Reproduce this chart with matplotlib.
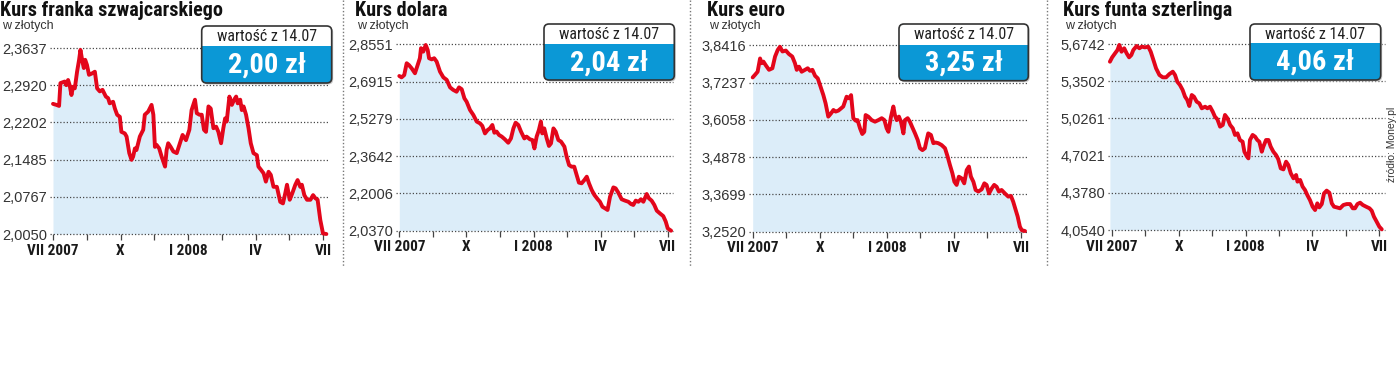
import matplotlib
matplotlib.use("Agg")
import matplotlib.pyplot as plt
from matplotlib import font_manager
from matplotlib.patches import FancyBboxPatch, Rectangle
from matplotlib.lines import Line2D
from matplotlib.transforms import IdentityTransform

# ---------------- data ----------------
titles = ["Kurs franka szwajcarskiego", "Kurs dolara", "Kurs euro", "Kurs funta szterlinga"]
unit_label = "w złotych"
box_label = "wartość z 14.07"
box_values = ["2,00 zł", "2,04 zł", "3,25 zł", "4,06 zł"]
month_ticks = [0, 1.5, 3, 4.5, 6, 7.5, 9, 10.5, 12]
month_labels = ["VII 2007", "", "X", "", "I 2008", "", "IV", "", "VII"]
source = "źródło: Money.pl"

chf_ticks = [2.0050, 2.0767, 2.1485, 2.2202, 2.2920, 2.3637]
usd_ticks = [2.0370, 2.2006, 2.3642, 2.5279, 2.6915, 2.8551]
eur_ticks = [3.2520, 3.3699, 3.4878, 3.6058, 3.7237, 3.8416]
gbp_ticks = [4.0540, 4.3780, 4.7021, 5.0261, 5.3502, 5.6742]

# months since start of July 2007
chf_m = [0.00, 0.15, 0.27, 0.33, 0.52, 0.59, 0.67, 0.74, 0.82, 0.89, 0.97, 1.07, 1.16, 1.22, 1.31,
         1.37, 1.43, 1.51, 1.60, 1.75, 1.86, 1.96, 2.08, 2.20, 2.35, 2.45, 2.52, 2.67, 2.75, 2.85,
         2.97, 3.04, 3.19, 3.27, 3.39, 3.49, 3.56, 3.64, 3.71, 3.86, 4.01, 4.08, 4.23, 4.38, 4.46,
         4.53, 4.60, 4.72, 4.83, 4.98, 5.05, 5.12, 5.23, 5.35, 5.50, 5.64, 5.76, 5.91, 6.06, 6.16,
         6.31, 6.39, 6.51, 6.61, 6.71, 6.80, 6.91, 7.01, 7.13, 7.25, 7.35, 7.47, 7.57, 7.65, 7.72,
         7.84, 7.95, 8.05, 8.14, 8.21, 8.32, 8.39, 8.47, 8.58, 8.69, 8.79, 8.91, 9.06, 9.13, 9.24,
         9.36, 9.46, 9.58, 9.68, 9.80, 9.95, 10.10, 10.22, 10.32, 10.40, 10.52, 10.63, 10.77, 10.87, 10.99,
         11.06, 11.17, 11.29, 11.44, 11.56, 11.66, 11.76, 11.88, 12.00, 12.15]
chf_v = [2.256, 2.254, 2.252, 2.296, 2.299, 2.292, 2.302, 2.292, 2.273, 2.289, 2.286, 2.318, 2.341, 2.360, 2.337,
         2.325, 2.341, 2.331, 2.312, 2.315, 2.318, 2.286, 2.280, 2.283, 2.270, 2.267, 2.257, 2.260, 2.247, 2.235,
         2.231, 2.202, 2.199, 2.193, 2.161, 2.148, 2.154, 2.170, 2.167, 2.193, 2.206, 2.235, 2.241, 2.254, 2.235,
         2.173, 2.177, 2.170, 2.154, 2.135, 2.167, 2.180, 2.173, 2.164, 2.161, 2.180, 2.196, 2.186, 2.206, 2.244,
         2.264, 2.238, 2.235, 2.235, 2.206, 2.202, 2.251, 2.247, 2.209, 2.212, 2.202, 2.180, 2.209, 2.228, 2.222,
         2.270, 2.254, 2.264, 2.270, 2.257, 2.264, 2.244, 2.251, 2.235, 2.209, 2.180, 2.161, 2.157, 2.135, 2.129,
         2.122, 2.106, 2.125, 2.119, 2.096, 2.096, 2.067, 2.064, 2.083, 2.100, 2.071, 2.083, 2.100, 2.109, 2.096,
         2.100, 2.080, 2.071, 2.071, 2.080, 2.074, 2.071, 2.032, 2.006, 2.005]

usd_m = [0.00, 0.10, 0.22, 0.33, 0.43, 0.55, 0.70, 0.82, 0.92, 0.97, 1.07, 1.18, 1.27, 1.33, 1.45,
         1.56, 1.67, 1.82, 1.97, 2.12, 2.27, 2.41, 2.56, 2.67, 2.79, 2.91, 3.01, 3.16, 3.31, 3.46,
         3.61, 3.71, 3.83, 3.95, 4.05, 4.16, 4.25, 4.35, 4.46, 4.58, 4.72, 4.87, 4.99, 5.10, 5.20,
         5.32, 5.44, 5.59, 5.69, 5.84, 5.95, 6.04, 6.14, 6.24, 6.33, 6.39, 6.48, 6.59, 6.69, 6.78,
         6.89, 6.99, 7.11, 7.23, 7.38, 7.48, 7.59, 7.70, 7.82, 7.93, 8.03, 8.15, 8.27, 8.38, 8.48,
         8.60, 8.72, 8.87, 8.97, 9.08, 9.20, 9.31, 9.42, 9.57, 9.67, 9.79, 9.94, 10.09, 10.24, 10.36,
         10.46, 10.57, 10.69, 10.80, 10.91, 11.06, 11.16, 11.28, 11.40, 11.51, 11.65, 11.80, 11.91, 12.00, 12.15]
usd_v = [2.716, 2.710, 2.720, 2.772, 2.764, 2.750, 2.728, 2.764, 2.794, 2.838, 2.823, 2.852, 2.830, 2.794, 2.789,
         2.794, 2.779, 2.735, 2.710, 2.699, 2.666, 2.655, 2.647, 2.666, 2.658, 2.618, 2.603, 2.567, 2.545, 2.516,
         2.508, 2.497, 2.464, 2.479, 2.486, 2.501, 2.467, 2.472, 2.457, 2.450, 2.438, 2.423, 2.442, 2.486, 2.511,
         2.501, 2.472, 2.442, 2.450, 2.438, 2.435, 2.398, 2.450, 2.479, 2.516, 2.464, 2.486, 2.442, 2.409, 2.420,
         2.486, 2.472, 2.435, 2.428, 2.406, 2.362, 2.325, 2.318, 2.318, 2.281, 2.248, 2.245, 2.259, 2.274, 2.245,
         2.216, 2.194, 2.175, 2.164, 2.142, 2.135, 2.128, 2.186, 2.227, 2.223, 2.204, 2.175, 2.169, 2.164, 2.154,
         2.150, 2.169, 2.164, 2.175, 2.164, 2.198, 2.179, 2.169, 2.150, 2.125, 2.113, 2.101, 2.077, 2.047, 2.037]

eur_m = [0.00, 0.10, 0.22, 0.33, 0.40, 0.48, 0.58, 0.73, 0.88, 1.00, 1.12, 1.22, 1.33, 1.48, 1.62,
         1.77, 1.89, 1.97, 2.07, 2.19, 2.34, 2.46, 2.56, 2.67, 2.79, 2.91, 3.01, 3.16, 3.26, 3.38,
         3.50, 3.61, 3.71, 3.83, 3.95, 4.05, 4.20, 4.31, 4.40, 4.50, 4.61, 4.69, 4.80, 4.90, 4.99,
         5.05, 5.17, 5.32, 5.47, 5.62, 5.77, 5.89, 5.99, 6.07, 6.18, 6.29, 6.36, 6.44, 6.54, 6.63,
         6.74, 6.81, 6.93, 7.03, 7.14, 7.26, 7.38, 7.48, 7.59, 7.70, 7.78, 7.85, 7.97, 8.08, 8.18,
         8.30, 8.45, 8.60, 8.72, 8.82, 8.93, 9.02, 9.12, 9.22, 9.34, 9.46, 9.57, 9.67, 9.76, 9.87,
         9.97, 10.09, 10.24, 10.36, 10.46, 10.57, 10.69, 10.80, 10.91, 11.01, 11.13, 11.28, 11.43, 11.55, 11.65,
         11.76, 11.85, 11.95, 12.03, 12.18]
eur_v = [3.740, 3.748, 3.758, 3.800, 3.785, 3.790, 3.779, 3.764, 3.769, 3.806, 3.827, 3.837, 3.822, 3.825, 3.814,
         3.806, 3.785, 3.764, 3.774, 3.758, 3.764, 3.769, 3.761, 3.764, 3.745, 3.737, 3.716, 3.684, 3.658, 3.616,
         3.626, 3.637, 3.632, 3.635, 3.642, 3.648, 3.679, 3.674, 3.684, 3.611, 3.603, 3.605, 3.579, 3.561, 3.568,
         3.621, 3.616, 3.605, 3.600, 3.605, 3.611, 3.605, 3.579, 3.568, 3.614, 3.648, 3.621, 3.605, 3.616, 3.600,
         3.563, 3.605, 3.611, 3.600, 3.582, 3.563, 3.542, 3.516, 3.510, 3.516, 3.542, 3.563, 3.558, 3.532, 3.534,
         3.532, 3.526, 3.516, 3.489, 3.463, 3.437, 3.410, 3.400, 3.426, 3.421, 3.405, 3.447, 3.458, 3.426, 3.410,
         3.384, 3.379, 3.386, 3.405, 3.400, 3.373, 3.389, 3.400, 3.394, 3.379, 3.384, 3.373, 3.363, 3.365, 3.347,
         3.321, 3.300, 3.268, 3.257, 3.254]

gbp_m = [-0.08, 0.02, 0.15, 0.26, 0.34, 0.44, 0.56, 0.67, 0.78, 0.88, 0.97, 1.12, 1.24, 1.35, 1.49,
         1.64, 1.75, 1.87, 1.99, 2.14, 2.29, 2.44, 2.59, 2.74, 2.84, 2.94, 3.06, 3.18, 3.29, 3.39,
         3.48, 3.59, 3.69, 3.81, 3.93, 4.04, 4.19, 4.29, 4.41, 4.53, 4.63, 4.74, 4.86, 4.98, 5.08,
         5.19, 5.31, 5.43, 5.53, 5.64, 5.75, 5.87, 5.95, 6.05, 6.13, 6.20, 6.32, 6.43, 6.53, 6.62,
         6.73, 6.80, 6.92, 7.03, 7.13, 7.25, 7.37, 7.47, 7.58, 7.70, 7.82, 7.92, 8.03, 8.15, 8.27,
         8.33, 8.45, 8.56, 8.67, 8.77, 8.89, 9.01, 9.12, 9.22, 9.31, 9.42, 9.52, 9.64, 9.76, 9.87,
         9.97, 10.09, 10.24, 10.39, 10.54, 10.69, 10.81, 10.91, 11.02, 11.14, 11.26, 11.41, 11.56, 11.66, 11.76,
         11.88, 12.00, 12.11]
gbp_v = [5.520, 5.558, 5.593, 5.622, 5.666, 5.607, 5.637, 5.593, 5.558, 5.578, 5.622, 5.657, 5.637, 5.651, 5.645,
         5.651, 5.607, 5.535, 5.462, 5.404, 5.384, 5.384, 5.413, 5.433, 5.404, 5.346, 5.317, 5.274, 5.215, 5.186,
         5.134, 5.230, 5.215, 5.172, 5.157, 5.114, 5.128, 5.114, 5.128, 5.085, 5.041, 5.018, 4.954, 4.969, 5.056,
         5.027, 4.969, 4.940, 4.882, 4.896, 4.838, 4.823, 4.736, 4.699, 4.678, 4.838, 4.882, 4.867, 4.838, 4.823,
         4.736, 4.780, 4.838, 4.838, 4.780, 4.736, 4.707, 4.670, 4.591, 4.582, 4.649, 4.620, 4.548, 4.504, 4.533,
         4.475, 4.490, 4.432, 4.402, 4.359, 4.315, 4.257, 4.228, 4.286, 4.251, 4.280, 4.373, 4.397, 4.379, 4.286,
         4.257, 4.251, 4.243, 4.272, 4.280, 4.280, 4.243, 4.243, 4.280, 4.292, 4.272, 4.257, 4.243, 4.222, 4.170,
         4.127, 4.083, 4.060]

series_m = [chf_m, usd_m, eur_m, gbp_m]
series_v = [chf_v, usd_v, eur_v, gbp_v]
series_ticks = [chf_ticks, usd_ticks, eur_ticks, gbp_ticks]

# ---------------- fonts ----------------
avail = {f.name for f in font_manager.fontManager.ttflist}


def pick(*names):
    for n in names:
        if n in avail:
            return n
    return "DejaVu Sans"


NARROW = pick("Liberation Sans Narrow", "Roboto Condensed", "Open Sans Condensed", "Liberation Sans")
REG = pick("Liberation Sans", "Roboto", "DejaVu Sans")

# ---------------- layout (pixels, y from top) ----------------
W, H = 1400, 374
LINE_RED = "#e3061b"
FILL_BLUE = "#dcedf9"
BOX_BLUE = "#0b98d6"
GRID_C = "#4a4a4a"

panels = [
    dict(x0=53.0, ppm=22.5, top=48.0, bot=234.0, tx=0, box=(201.7, 26, 331.7, 46, 83)),
    dict(x0=399.3, ppm=22.37, top=44.3, bot=230.7, tx=355, box=(544.0, 24, 674.3, 44.3, 80)),
    dict(x0=752.7, ppm=22.36, top=45.3, bot=231.7, tx=707, box=(899.0, 24, 1028.3, 44.5, 80.7)),
    dict(x0=1111.7, ppm=22.3, top=44.0, bot=230.0, tx=1063, box=(1250.0, 24, 1380.7, 43.3, 80)),
]
XLIM = (-0.15, 12.25)

fig = plt.figure(figsize=(W / 100, H / 100), dpi=100)
fig.patch.set_facecolor("white")

for i, p in enumerate(panels):
    left = p["x0"] + XLIM[0] * p["ppm"]
    right = p["x0"] + XLIM[1] * p["ppm"]
    ax = fig.add_axes([left / W, 1 - p["bot"] / H, (right - left) / W, (p["bot"] - p["top"]) / H])
    ax.set_facecolor("none")
    ticks = series_ticks[i]
    m, v = series_m[i], series_v[i]
    ax.set_xlim(*XLIM)
    ax.set_ylim(ticks[0], ticks[-1])
    ax.fill_between(m, v, ticks[0], color=FILL_BLUE, lw=0, zorder=1)
    ax.plot(m, v, color=LINE_RED, lw=2.8, solid_joinstyle="round", solid_capstyle="round",
            clip_on=False, zorder=3)
    for s in ax.spines.values():
        s.set_visible(False)
    ax.set_yticks(ticks)
    ax.set_yticklabels([f"{t:.4f}".replace(".", ",") for t in ticks], fontfamily=REG,
                       fontsize=10.5, color="#333333")
    ax.tick_params(axis="y", length=0, pad=2)
    ax.yaxis.grid(True, linestyle=(0, (1, 1.6)), color=GRID_C, lw=0.9)
    for gl in ax.yaxis.get_gridlines():
        gl.set_clip_on(False)
    ax.set_xticks(month_ticks)
    ax.set_xticklabels(month_labels, fontfamily=NARROW, fontweight="bold", fontsize=11,
                       color="#1a1a1a")
    ax.tick_params(axis="x", length=4, width=0.9, color="#444444", pad=3, direction="out")

    # titles
    fig.text(p["tx"] / W, 1 - 15.5 / H, titles[i], fontfamily=NARROW, fontweight="bold",
             fontsize=14.5, color="#111111", ha="left", va="baseline")
    fig.text((p["tx"] + 2) / W, 1 - 29 / H, unit_label, fontfamily=REG, fontsize=9,
             color="#333333", ha="left", va="baseline")

    # value box
    x1, yt, x2, ym, yb = p["box"]
    bw, bh = x2 - x1, yb - yt
    shadow = FancyBboxPatch((x1 + 1.5, H - yb - 1.5), bw, bh,
                            boxstyle="round,pad=0,rounding_size=5", fc="#c9c9c9", ec="none",
                            transform=IdentityTransform(), zorder=5)
    body = FancyBboxPatch((x1, H - yb), bw, bh, boxstyle="round,pad=0,rounding_size=5",
                          fc=BOX_BLUE, ec="none", transform=IdentityTransform(), zorder=6)
    top_part = Rectangle((x1, H - ym), bw, ym - yt, fc="white", ec="none",
                         transform=IdentityTransform(), zorder=7)
    edge = FancyBboxPatch((x1, H - yb), bw, bh, boxstyle="round,pad=0,rounding_size=5",
                          fc="none", ec="#333333", lw=1.2, transform=IdentityTransform(), zorder=8)
    for a in (shadow, body, top_part, edge):
        fig.add_artist(a)
    top_part.set_clip_path(body)
    cx = (x1 + x2) / 2
    fig.text(cx / W, 1 - ((yt + ym) / 2 + 0.5) / H, box_label, fontfamily=NARROW, fontsize=11.5,
             color="#222222", ha="center", va="center", zorder=9)
    fig.text(cx / W, 1 - ((ym + yb) / 2 + 0.5) / H, box_values[i], fontfamily=NARROW,
             fontweight="bold", fontsize=20.5, color="white", ha="center", va="center", zorder=9)

# dotted separators
for sx in (343, 690, 1047):
    fig.add_artist(Line2D([sx / W, sx / W], [1, 1 - 266 / H], transform=fig.transFigure,
                          color="#777777", lw=1.0, linestyle=(0, (1, 1.5))))

fig.text(1392 / W, 1 - 144 / H, source, rotation=90, fontfamily=REG, fontsize=7.5,
         color="#333333", ha="center", va="center")

fig.savefig("out.png", dpi=100, facecolor="white")
